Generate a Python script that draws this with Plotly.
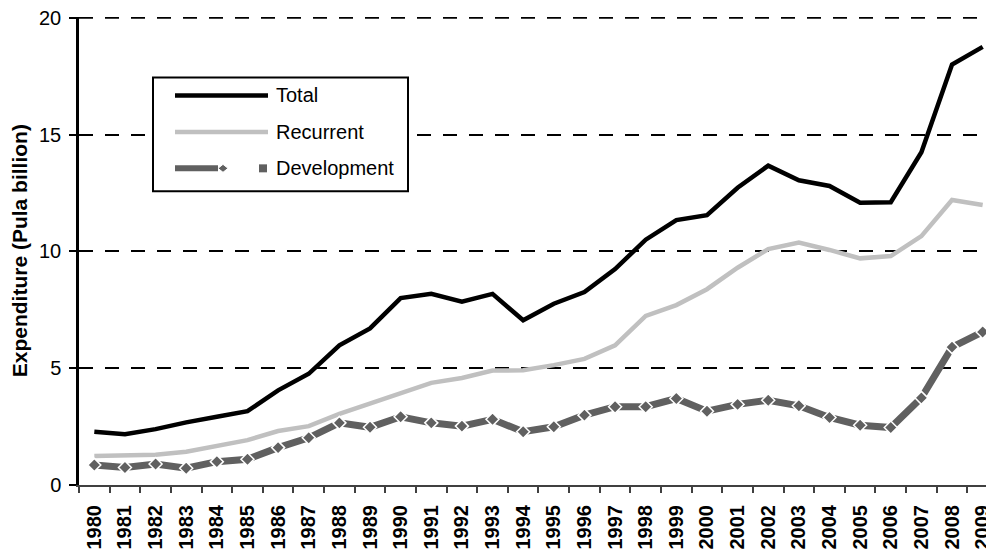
import plotly.graph_objects as go

years = [str(y) for y in range(1980, 2010)]
total = [2.28, 2.17, 2.39, 2.68, 2.92, 3.16, 4.05, 4.76, 5.98, 6.7, 8.0, 8.18, 7.85, 8.18, 7.05,
         7.76, 8.26, 9.24, 10.5, 11.34, 11.55, 12.72, 13.67, 13.04, 12.8, 12.08, 12.1, 14.24, 18.0, 18.75]
recurrent = [1.24, 1.28, 1.29, 1.42, 1.67, 1.92, 2.31, 2.52, 3.04, 3.5, 3.95, 4.37, 4.58, 4.9, 4.91,
             5.13, 5.4, 5.98, 7.24, 7.7, 8.38, 9.3, 10.1, 10.38, 10.06, 9.7, 9.8, 10.65, 12.2, 11.98]
development = [0.86, 0.75, 0.9, 0.72, 1.0, 1.1, 1.6, 2.02, 2.66, 2.47, 2.92, 2.66, 2.52, 2.81, 2.28,
               2.49, 2.99, 3.35, 3.35, 3.7, 3.16, 3.45, 3.63, 3.39, 2.89, 2.56, 2.46, 3.73, 5.9, 6.55]
y_ticks = [0, 5, 10, 15, 20]

FONT = "Liberation Sans, Arial, sans-serif"
OFF = 8  # page body margin in the browser
W, H = 986, 541
L, R, T, B = 71, 0, 8.5, 64
PW, PH = W - L - R, H - T - B

def px(x):  # page pixel -> paper x
    return (x - OFF - L) / PW

def py(y):  # page pixel -> paper y
    return (H - B - (y - OFF)) / PH

fig = go.Figure()
fig.add_trace(go.Scatter(x=years, y=total, mode="lines", name="Total",
                         line=dict(color="black", width=4.5), showlegend=False))
fig.add_trace(go.Scatter(x=years, y=recurrent, mode="lines", name="Recurrent",
                         line=dict(color="#c0c0c0", width=4.5), showlegend=False))
fig.add_trace(go.Scatter(x=years, y=development, mode="lines+markers", name="Development",
                         line=dict(color="#606060", width=7),
                         marker=dict(symbol="diamond", size=10, color="#606060",
                                     line=dict(color="white", width=1.5)),
                         showlegend=False))

shapes = []
annotations = []
# top gridline (plotly drops the gridline lying on the plot edge)
shapes.append(dict(type="line", xref="paper", yref="y", x0=0, x1=1, y0=y_ticks[-1], y1=y_ticks[-1],
                   line=dict(color="black", width=2, dash="14px,12px"), layer="below"))
# legend box
shapes.append(dict(type="rect", xref="paper", yref="paper", x0=px(153), x1=px(408), y0=py(191), y1=py(77),
                   line=dict(color="black", width=2), fillcolor="white", layer="above"))
for yy, col, w in [(95, "black", 4.5), (131.5, "#c0c0c0", 4.5)]:
    shapes.append(dict(type="line", xref="paper", yref="paper", x0=px(175), x1=px(268), y0=py(yy), y1=py(yy),
                       line=dict(color=col, width=w), layer="above"))
shapes.append(dict(type="line", xref="paper", yref="paper", x0=px(175), x1=px(218), y0=py(168), y1=py(168),
                   line=dict(color="#606060", width=6), layer="above"))
shapes.append(dict(type="path", xref="paper", yref="paper",
                   path=f"M {px(218)},{py(168)} L {px(223)},{py(164)} L {px(228)},{py(168)} L {px(223)},{py(172)} Z",
                   fillcolor="#606060", line=dict(color="white", width=1), layer="above"))
shapes.append(dict(type="rect", xref="paper", yref="paper", x0=px(259), x1=px(267), y0=py(172), y1=py(164),
                   fillcolor="#606060", line=dict(width=0), layer="above"))
for yy, txt in [(95, "Total"), (131.5, "Recurrent"), (168, "Development")]:
    annotations.append(dict(xref="paper", yref="paper", x=px(274), y=py(yy), text=txt, showarrow=False,
                            xanchor="left", yanchor="middle", font=dict(family=FONT, size=20, color="black")))
annotations.append(dict(xref="paper", yref="paper", x=px(19), y=py(251), text="<b>Expenditure (Pula billion)</b>",
                        textangle=-90, showarrow=False, xanchor="center", yanchor="middle",
                        font=dict(family=FONT, size=21, color="black")))

fig.update_layout(
    width=W, height=H,
    margin=dict(l=L, r=R, t=T, b=B, pad=0),
    paper_bgcolor="white", plot_bgcolor="white",
    shapes=shapes, annotations=annotations,
    font=dict(family=FONT, color="black"),
    xaxis=dict(type="category", range=[-0.5, 29.37], tickson="boundaries", ticks="outside", ticklen=6,
               tickcolor="#404040", tickwidth=1.5, showline=True, linecolor="#404040", linewidth=2,
               tickangle=-90, ticklabelstandoff=10, ticklabeloverflow="allow",
               tickfont=dict(family=FONT, size=20, color="black", weight="bold"),
               showgrid=False, zeroline=False, automargin=False),
    yaxis=dict(range=[0, 20.03], tickvals=y_ticks, ticks="outside", ticklen=7, tickcolor="black", tickwidth=1.5,
               showline=True, linecolor="black", linewidth=2.5, ticklabelstandoff=4, ticklabeloverflow="allow",
               tickfont=dict(family=FONT, size=20, color="black"), automargin=False,
               showgrid=True, gridcolor="black", gridwidth=2, griddash="14px,12px", zeroline=False),
)
fig.write_html("out.html")
